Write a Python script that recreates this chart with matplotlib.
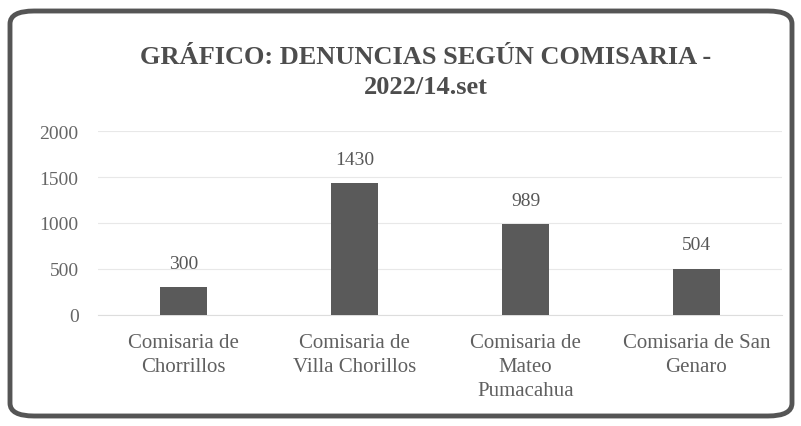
import matplotlib
matplotlib.use('Agg')
import matplotlib.pyplot as plt
from matplotlib.patches import FancyBboxPatch

# datos
comisarias = ['Comisaria de\nChorrillos', 'Comisaria de\nVilla Chorillos',
              'Comisaria de\nMateo\nPumacahua', 'Comisaria de San\nGenaro']
denuncias = [300, 1430, 989, 504]
ticks_y = [0, 500, 1000, 1500, 2000]

plt.rcParams['font.family'] = ['Liberation Serif', 'DejaVu Serif']
gris = '#575757'

fig = plt.figure(figsize=(8.01, 4.27), dpi=100)
ax = fig.add_axes([98 / 801, 1 - 316 / 427, 684 / 801, 184 / 427])

# marco redondeado
marco = FancyBboxPatch((10 / 801, 10 / 427), 782 / 801, 405 / 427,
                       boxstyle='round,pad=0,rounding_size=0.03',
                       transform=fig.transFigure, fill=False,
                       edgecolor='#555555', linewidth=3.5, zorder=0)
fig.patches.append(marco)

x = range(len(comisarias))
ax.bar(x, denuncias, width=0.275, color='#5a5a5a', zorder=3)
for xi, v in zip(x, denuncias):
    ax.annotate(str(v), (xi, v), xytext=(0, 11), textcoords='offset points',
                ha='center', va='bottom', fontsize=14, color=gris)

ax.set_xlim(-0.5, len(comisarias) - 0.5)
ax.set_ylim(0, 2000)
ax.set_yticks(ticks_y)
ax.set_yticklabels([str(t) for t in ticks_y], fontsize=14, color='#666666')
ax.set_xticks(list(x))
ax.set_xticklabels(comisarias, fontsize=15, color='#606060', linespacing=1.35)
ax.tick_params(axis='y', length=0, pad=14)
ax.tick_params(axis='x', length=0, pad=13)
ax.grid(axis='y', color='#e8e8e8', linewidth=0.8)
ax.set_axisbelow(True)
for s in ['top', 'right', 'left']:
    ax.spines[s].set_visible(False)
ax.spines['bottom'].set_color('#dddddd')

fig.text(0.531, 1 - 57 / 427, 'GRÁFICO: DENUNCIAS SEGÚN COMISARIA -',
         ha='center', va='center', fontsize=19, fontweight='bold', color='#4d4d4d')
fig.text(0.531, 1 - 88 / 427, '2022/14.set',
         ha='center', va='center', fontsize=19, fontweight='bold', color='#4d4d4d')

plt.savefig('out.png', dpi=100)
plt.close()
